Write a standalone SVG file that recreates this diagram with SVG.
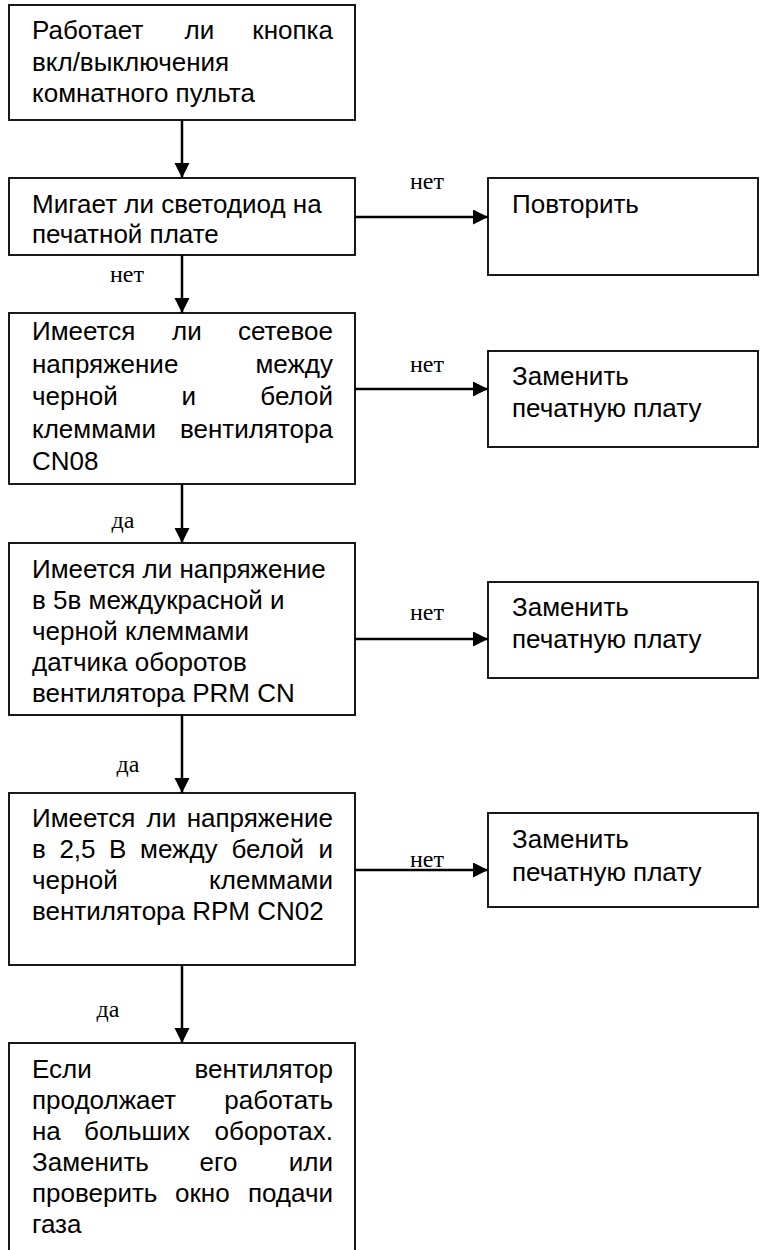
<svg xmlns="http://www.w3.org/2000/svg" width="766" height="1250" viewBox="0 0 766 1250">
<style>
.box{fill:#fff;stroke:#000;stroke-width:1.8}
.t{font-family:"Liberation Sans",Arial,sans-serif;font-size:26px;fill:#000}
.e{text-anchor:end}
.m{text-anchor:middle}
.lbl{font-family:"Liberation Serif","Times New Roman",serif;font-size:24px;fill:#000;text-anchor:middle}
.c{stroke:#000;stroke-width:2.5;fill:none;marker-end:url(#ah)}
</style>
<defs>
<marker id="ah" markerUnits="userSpaceOnUse" markerWidth="16" markerHeight="16" refX="15" refY="7.5" orient="auto">
<path d="M0,0 L15,7.5 L0,15 z" fill="#000"/>
</marker>
</defs>
<rect width="766" height="1250" fill="#fff"/>
<g id="connectors">
<line class="c" x1="182" y1="120" x2="182" y2="178"/>
<line class="c" x1="182" y1="255" x2="182" y2="313"/>
<line class="c" x1="182" y1="484" x2="182" y2="543"/>
<line class="c" x1="182" y1="715" x2="182" y2="793"/>
<line class="c" x1="182" y1="965" x2="182" y2="1043"/>
<line class="c" x1="355" y1="217" x2="488" y2="217"/>
<line class="c" x1="355" y1="389" x2="488" y2="389"/>
<line class="c" x1="355" y1="639" x2="488" y2="639"/>
<line class="c" x1="355" y1="870" x2="488" y2="870"/>
<text class="lbl" x="127" y="282">нет</text>
<text class="lbl" x="123" y="528">да</text>
<text class="lbl" x="128" y="772">да</text>
<text class="lbl" x="108" y="1017">да</text>
<text class="lbl" x="427" y="189">нет</text>
<text class="lbl" x="427" y="372">нет</text>
<text class="lbl" x="427" y="620">нет</text>
<text class="lbl" x="427" y="867">нет</text>
</g>
<g id="n1">
<rect class="box" x="9" y="5" width="346" height="115"/>
<text class="t" x="32" y="39">Работает</text>
<text class="t" x="184.5" y="39">ли</text>
<text class="t e" x="333" y="39">кнопка</text>
<text class="t" x="32" y="70.5">вкл/выключения</text>
<text class="t" x="32" y="102">комнатного пульта</text>
</g>
<g id="n2">
<rect class="box" x="9" y="178" width="346" height="77"/>
<text class="t" x="32" y="213">Мигает ли светодиод на</text>
<text class="t" x="32" y="243">печатной плате</text>
</g>
<g id="n3">
<rect class="box" x="9" y="313" width="346" height="171"/>
<text class="t" x="32" y="340">Имеется</text>
<text class="t" x="172" y="340">ли</text>
<text class="t e" x="333" y="340">сетевое</text>
<text class="t" x="32" y="372.5">напряжение</text>
<text class="t e" x="333" y="372.5">между</text>
<text class="t" x="32" y="405">черной</text>
<text class="t" x="181.5" y="405">и</text>
<text class="t e" x="333" y="405">белой</text>
<text class="t" x="32" y="437.5">клеммами</text>
<text class="t e" x="333" y="437.5">вентилятора</text>
<text class="t" x="32" y="470">CN08</text>
</g>
<g id="n4">
<rect class="box" x="9" y="543" width="346" height="172"/>
<text class="t" x="32" y="578">Имеется ли напряжение</text>
<text class="t" x="32" y="609">в 5в междукрасной и</text>
<text class="t" x="32" y="640">черной клеммами</text>
<text class="t" x="32" y="671">датчика оборотов</text>
<text class="t" x="32" y="702">вентилятора PRM CN</text>
</g>
<g id="n5">
<rect class="box" x="9" y="793" width="346" height="172"/>
<text class="t" x="32" y="827">Имеется</text>
<text class="t" x="146.6" y="827">ли</text>
<text class="t e" x="333" y="827">напряжение</text>
<text class="t" x="32" y="858">в</text>
<text class="t" x="59.4" y="858">2,5</text>
<text class="t" x="109.1" y="858">В</text>
<text class="t" x="140" y="858">между</text>
<text class="t" x="231.5" y="858">белой</text>
<text class="t e" x="333" y="858">и</text>
<text class="t" x="32" y="889">черной</text>
<text class="t e" x="333" y="889">клеммами</text>
<text class="t" x="32" y="920">вентилятора RPM CN02</text>
</g>
<g id="n6">
<rect class="box" x="9" y="1043" width="346" height="230"/>
<text class="t" x="32" y="1078">Если</text>
<text class="t e" x="333" y="1078">вентилятор</text>
<text class="t" x="32" y="1109">продолжает</text>
<text class="t e" x="333" y="1109">работать</text>
<text class="t" x="32" y="1140">на</text>
<text class="t" x="84" y="1140">больших</text>
<text class="t e" x="333" y="1140">оборотах.</text>
<text class="t" x="32" y="1171">Заменить</text>
<text class="t" x="199.6" y="1171">его</text>
<text class="t e" x="333" y="1171">или</text>
<text class="t" x="32" y="1202">проверить</text>
<text class="t" x="175" y="1202">окно</text>
<text class="t e" x="333" y="1202">подачи</text>
<text class="t" x="32" y="1233">газа</text>
</g>
<g id="r1">
<rect class="box" x="488" y="178" width="270" height="97"/>
<text class="t" x="512" y="213">Повторить</text>
</g>
<g id="r2">
<rect class="box" x="488" y="351" width="270" height="96"/>
<text class="t" x="512" y="385">Заменить</text>
<text class="t" x="512" y="417">печатную плату</text>
</g>
<g id="r3">
<rect class="box" x="488" y="582" width="270" height="96"/>
<text class="t" x="512" y="616">Заменить</text>
<text class="t" x="512" y="648">печатную плату</text>
</g>
<g id="r4">
<rect class="box" x="488" y="813" width="270" height="94"/>
<text class="t" x="512" y="848">Заменить</text>
<text class="t" x="512" y="881">печатную плату</text>
</g>
</svg>
